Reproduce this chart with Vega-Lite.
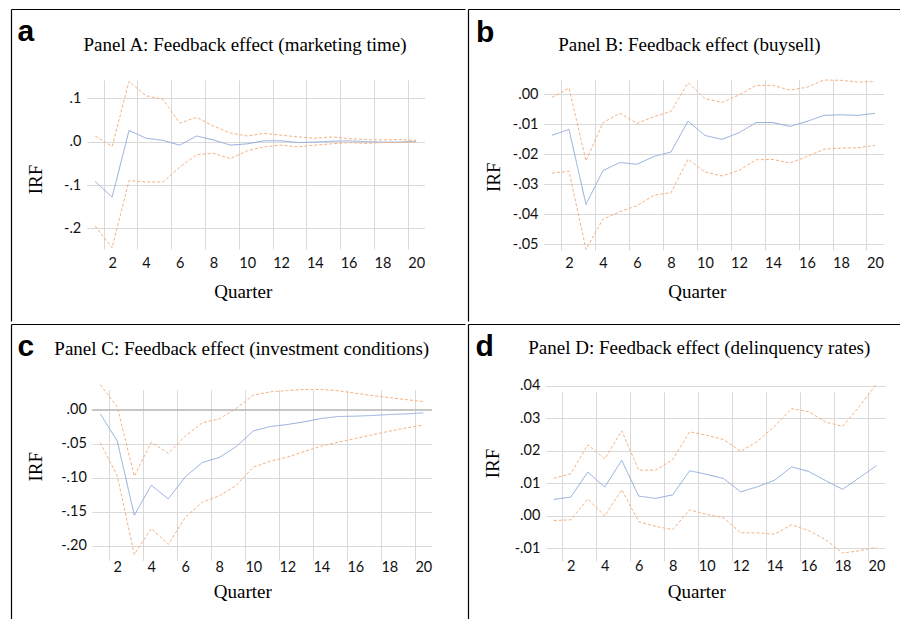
{
  "$schema": "https://vega.github.io/schema/vega-lite/v6.json",
  "padding": {"left": 8, "top": 9, "right": 0, "bottom": 0},
  "background": "white",
  "config": {"view": {"stroke": null}, "concat": {"spacing": 0}},
  "spacing": 0,
  "vconcat": [
    {
      "spacing": 0,
      "hconcat": [
        {
          "width": 454, "height": 312,
          "resolve": {"scale": {"x": "independent", "y": "independent"}, "axis": {"x": "independent", "y": "independent"}},
          "layer": [
            {
              "data": {"values": [{}]},
              "mark": {"type": "point", "opacity": 0},
              "encoding": {
                "x": {"datum": 0, "type": "quantitative", "scale": {"domain": [0, 1], "nice": false},
                  "axis": {"orient": "top", "domain": true, "domainColor": "#000", "domainWidth": 1.2, "ticks": false, "labels": false, "grid": false,
                    "title": "Panel A:  Feedback effect (marketing time)", "titleX": 233.5, "titleY": 41.7, "titleAlign": "center", "titleBaseline": "alphabetic",
                    "titleFont": "Liberation Serif", "titleFontSize": 19, "titleFontWeight": "normal", "titleColor": "#000"}},
                "y": {"datum": 0, "type": "quantitative", "scale": {"domain": [0, 1], "nice": false},
                  "axis": {"orient": "left", "domain": true, "domainColor": "#000", "domainWidth": 1.2, "ticks": false, "labels": false, "grid": false,
                    "title": "a", "titleAngle": 0, "titleX": 6, "titleY": 31.5, "titleAlign": "left", "titleBaseline": "alphabetic",
                    "titleFont": "Liberation Sans", "titleFontSize": 30, "titleFontWeight": "bold", "titleColor": "#000"}}
              }
            },
            {
              "data": {"values": [
                {"q":1,"IRF":-0.092,"Upper":0.013,"Lower":-0.195},
                {"q":2,"IRF":-0.128,"Upper":-0.011,"Lower":-0.245},
                {"q":3,"IRF":0.026,"Upper":0.139,"Lower":-0.090},
                {"q":4,"IRF":0.008,"Upper":0.106,"Lower":-0.093},
                {"q":5,"IRF":0.003,"Upper":0.098,"Lower":-0.093},
                {"q":6,"IRF":-0.008,"Upper":0.043,"Lower":-0.059},
                {"q":7,"IRF":0.013,"Upper":0.056,"Lower":-0.030},
                {"q":8,"IRF":0.004,"Upper":0.036,"Lower":-0.027},
                {"q":9,"IRF":-0.008,"Upper":0.020,"Lower":-0.039},
                {"q":10,"IRF":-0.005,"Upper":0.013,"Lower":-0.021},
                {"q":11,"IRF":0.002,"Upper":0.019,"Lower":-0.012},
                {"q":12,"IRF":0.002,"Upper":0.015,"Lower":-0.008},
                {"q":13,"IRF":-0.002,"Upper":0.011,"Lower":-0.012},
                {"q":14,"IRF":-0.001,"Upper":0.008,"Lower":-0.008},
                {"q":15,"IRF":0.001,"Upper":0.011,"Lower":-0.005},
                {"q":16,"IRF":0.002,"Upper":0.007,"Lower":-0.002},
                {"q":17,"IRF":0.0,"Upper":0.005,"Lower":-0.004},
                {"q":18,"IRF":-0.001,"Upper":0.004,"Lower":-0.002},
                {"q":19,"IRF":-0.001,"Upper":0.005,"Lower":-0.002},
                {"q":20,"IRF":0.001,"Upper":0.003,"Lower":-0.001}
              ]},
              "transform": [{"fold": ["IRF", "Upper", "Lower"], "as": ["s", "v"]}],
              "layer": [
                {
                  "mark": {"type": "line", "strokeWidth": 1},
                  "encoding": {
                    "x": {"field": "q", "type": "quantitative", "scale": {"domain": [0.5, 20.5], "range": [75.8, 413.6], "nice": false, "zero": false},
                      "axis": {"orient": "bottom", "offset": -71, "values": [1.5,3.5,5.5,7.5,9.5,11.5,13.5,15.5,17.5,19.5],
                        "labelExpr": "'' + (datum.value + 0.5)", "labelOffset": 8.45, "labelFlush": false, "labelOverlap": false, "labelBound": false,
                        "labelPadding": 6, "labelFont": "Lato", "labelFontSize": 14.5, "labelColor": "#111",
                        "ticks": false, "domain": false, "grid": true, "gridColor": "#D9D9D9", "gridWidth": 1,
                        "title": "Quarter", "titleX": 231.7, "titleY": 47.5, "titleAlign": "center", "titleBaseline": "alphabetic",
                        "titleFont": "Liberation Serif", "titleFontSize": 19, "titleFontWeight": "normal", "titleColor": "#000"}},
                    "y": {"field": "v", "type": "quantitative", "scale": {"domain": [-0.25, 0.14], "range": [241, 72], "nice": false, "zero": false},
                      "axis": {"orient": "left", "offset": -75.8, "values": [-0.2, -0.1, 0, 0.1],
                        "labelExpr": "(datum.value < 0 ? '-' : '') + replace(format(abs(datum.value), '.1f'), '0.', '.')",
                        "labelFlush": false, "labelOverlap": false, "labelPadding": 6, "labelFont": "Lato", "labelFontSize": 14.5, "labelColor": "#111",
                        "ticks": false, "domain": false, "grid": true, "gridColor": "#D9D9D9", "gridWidth": 1,
                        "title": "IRF", "titleX": -45.5, "titleY": 170, "titleAlign": "center", "titleBaseline": "alphabetic",
                        "titleFont": "Liberation Serif", "titleFontSize": 19, "titleFontWeight": "normal", "titleColor": "#000"}},
                    "color": {"field": "s", "type": "nominal", "scale": {"domain": ["IRF", "Upper", "Lower"], "range": ["#8FAADC", "#F4B183", "#F4B183"]}, "legend": null},
                    "strokeDash": {"field": "s", "type": "nominal", "scale": {"domain": ["IRF", "Upper", "Lower"], "range": [[1, 0], [3, 2], [3, 2]]}, "legend": null}
                  }
                }
              ]
            }
          ]
        },
        {
          "width": 437, "height": 312,
          "resolve": {"scale": {"x": "independent", "y": "independent"}, "axis": {"x": "independent", "y": "independent"}},
          "layer": [
            {
              "data": {"values": [{}]},
              "mark": {"type": "point", "opacity": 0},
              "encoding": {
                "x": {"datum": 0, "type": "quantitative", "scale": {"domain": [0, 1], "nice": false},
                  "axis": {"orient": "top", "domain": true, "domainColor": "#000", "domainWidth": 1.2, "ticks": false, "labels": false, "grid": false,
                    "title": "Panel B: Feedback effect (buysell)", "titleX": 221, "titleY": 41.7, "titleAlign": "center", "titleBaseline": "alphabetic",
                    "titleFont": "Liberation Serif", "titleFontSize": 19, "titleFontWeight": "normal", "titleColor": "#000"}},
                "y": {"datum": 0, "type": "quantitative", "scale": {"domain": [0, 1], "nice": false},
                  "axis": {"orient": "left", "domain": true, "domainColor": "#000", "domainWidth": 1.2, "ticks": false, "labels": false, "grid": false,
                    "title": "b", "titleAngle": 0, "titleX": 7.5, "titleY": 32, "titleAlign": "left", "titleBaseline": "alphabetic",
                    "titleFont": "Liberation Sans", "titleFontSize": 30, "titleFontWeight": "bold", "titleColor": "#000"}}
              }
            },
            {
              "data": {"values": [
                {"q":1,"IRF":-0.0136,"Upper":-0.0010,"Lower":-0.0263},
                {"q":2,"IRF":-0.0117,"Upper":0.0021,"Lower":-0.0256},
                {"q":3,"IRF":-0.0367,"Upper":-0.0222,"Lower":-0.0517},
                {"q":4,"IRF":-0.0254,"Upper":-0.0094,"Lower":-0.0416},
                {"q":5,"IRF":-0.0227,"Upper":-0.0063,"Lower":-0.0391},
                {"q":6,"IRF":-0.0233,"Upper":-0.0097,"Lower":-0.0371},
                {"q":7,"IRF":-0.0207,"Upper":-0.0074,"Lower":-0.0336},
                {"q":8,"IRF":-0.0192,"Upper":-0.0057,"Lower":-0.0328},
                {"q":9,"IRF":-0.0089,"Upper":0.0039,"Lower":-0.0216},
                {"q":10,"IRF":-0.0137,"Upper":-0.0014,"Lower":-0.0259},
                {"q":11,"IRF":-0.0150,"Upper":-0.0027,"Lower":-0.0272},
                {"q":12,"IRF":-0.0128,"Upper":-0.0002,"Lower":-0.0254},
                {"q":13,"IRF":-0.0094,"Upper":0.0030,"Lower":-0.0218},
                {"q":14,"IRF":-0.0094,"Upper":0.0030,"Lower":-0.0217},
                {"q":15,"IRF":-0.0107,"Upper":0.0014,"Lower":-0.0229},
                {"q":16,"IRF":-0.0090,"Upper":0.0024,"Lower":-0.0207},
                {"q":17,"IRF":-0.0070,"Upper":0.0048,"Lower":-0.0183},
                {"q":18,"IRF":-0.0068,"Upper":0.0047,"Lower":-0.0179},
                {"q":19,"IRF":-0.0070,"Upper":0.0041,"Lower":-0.0178},
                {"q":20,"IRF":-0.0063,"Upper":0.0043,"Lower":-0.0170}
              ]},
              "transform": [{"fold": ["IRF", "Upper", "Lower"], "as": ["s", "v"]}],
              "layer": [
                {
                  "mark": {"type": "line", "strokeWidth": 1},
                  "encoding": {
                    "x": {"field": "q", "type": "quantitative", "scale": {"domain": [0.5, 20.5], "range": [75.5, 415.5], "nice": false, "zero": false},
                      "axis": {"orient": "bottom", "offset": -70.7, "values": [1.5,3.5,5.5,7.5,9.5,11.5,13.5,15.5,17.5,19.5],
                        "labelExpr": "'' + (datum.value + 0.5)", "labelOffset": 8.5, "labelFlush": false, "labelOverlap": false, "labelBound": false,
                        "labelPadding": 6, "labelFont": "Lato", "labelFontSize": 14.5, "labelColor": "#111",
                        "ticks": false, "domain": false, "grid": true, "gridColor": "#D9D9D9", "gridWidth": 1,
                        "title": "Quarter", "titleX": 228.8, "titleY": 47.2, "titleAlign": "center", "titleBaseline": "alphabetic",
                        "titleFont": "Liberation Serif", "titleFontSize": 19, "titleFontWeight": "normal", "titleColor": "#000"}},
                    "y": {"field": "v", "type": "quantitative", "scale": {"domain": [-0.052, 0.0048], "range": [241.3, 71], "nice": false, "zero": false},
                      "axis": {"orient": "left", "offset": -75.5, "values": [-0.05, -0.04, -0.03, -0.02, -0.01, 0],
                        "labelExpr": "(datum.value < 0 ? '-' : '') + replace(format(abs(datum.value), '.2f'), '0.', '.')",
                        "labelFlush": false, "labelOverlap": false, "labelPadding": 5.5, "labelFont": "Lato", "labelFontSize": 14.5, "labelColor": "#111",
                        "ticks": false, "domain": false, "grid": true, "gridColor": "#D9D9D9", "gridWidth": 1,
                        "title": "IRF", "titleX": -44.2, "titleY": 167.7, "titleAlign": "center", "titleBaseline": "alphabetic",
                        "titleFont": "Liberation Serif", "titleFontSize": 19, "titleFontWeight": "normal", "titleColor": "#000"}},
                    "color": {"field": "s", "type": "nominal", "scale": {"domain": ["IRF", "Upper", "Lower"], "range": ["#8FAADC", "#F4B183", "#F4B183"]}, "legend": null},
                    "strokeDash": {"field": "s", "type": "nominal", "scale": {"domain": ["IRF", "Upper", "Lower"], "range": [[1, 0], [3, 2], [3, 2]]}, "legend": null}
                  }
                }
              ]
            }
          ]
        }
      ]
    },
    {
      "spacing": 0,
      "hconcat": [
        {
          "width": 454, "height": 297,
          "resolve": {"scale": {"x": "independent", "y": "independent"}, "axis": {"x": "independent", "y": "independent"}},
          "layer": [
            {
              "data": {"values": [{}]},
              "mark": {"type": "point", "opacity": 0},
              "encoding": {
                "x": {"datum": 0, "type": "quantitative", "scale": {"domain": [0, 1], "nice": false},
                  "axis": {"orient": "top", "domain": true, "domainColor": "#000", "domainWidth": 1.2, "ticks": false, "labels": false, "grid": false,
                    "title": "Panel C: Feedback effect (investment conditions)", "titleX": 230.2, "titleY": 30.5, "titleAlign": "center", "titleBaseline": "alphabetic",
                    "titleFont": "Liberation Serif", "titleFontSize": 19, "titleFontWeight": "normal", "titleColor": "#000"}},
                "y": {"datum": 0, "type": "quantitative", "scale": {"domain": [0, 1], "nice": false},
                  "axis": {"orient": "left", "domain": true, "domainColor": "#000", "domainWidth": 1.2, "ticks": false, "labels": false, "grid": false,
                    "title": "c", "titleAngle": 0, "titleX": 6, "titleY": 31, "titleAlign": "left", "titleBaseline": "alphabetic",
                    "titleFont": "Liberation Sans", "titleFontSize": 30, "titleFontWeight": "bold", "titleColor": "#000"}}
              }
            },
            {
              "data": {"values": [
                {"q":1,"IRF":-0.0059,"Upper":0.037,"Lower":-0.0485},
                {"q":2,"IRF":-0.046,"Upper":0.004,"Lower":-0.0975},
                {"q":3,"IRF":-0.155,"Upper":-0.0975,"Lower":-0.2127},
                {"q":4,"IRF":-0.111,"Upper":-0.0475,"Lower":-0.1745},
                {"q":5,"IRF":-0.131,"Upper":-0.064,"Lower":-0.198},
                {"q":6,"IRF":-0.0985,"Upper":-0.0387,"Lower":-0.158},
                {"q":7,"IRF":-0.0775,"Upper":-0.019,"Lower":-0.1358},
                {"q":8,"IRF":-0.070,"Upper":-0.0132,"Lower":-0.1265},
                {"q":9,"IRF":-0.054,"Upper":0.002,"Lower":-0.111},
                {"q":10,"IRF":-0.031,"Upper":0.0216,"Lower":-0.0843},
                {"q":11,"IRF":-0.0245,"Upper":0.0265,"Lower":-0.0755},
                {"q":12,"IRF":-0.0216,"Upper":0.0284,"Lower":-0.0696},
                {"q":13,"IRF":-0.0176,"Upper":0.030,"Lower":-0.0613},
                {"q":14,"IRF":-0.0127,"Upper":0.030,"Lower":-0.0534},
                {"q":15,"IRF":-0.0098,"Upper":0.028,"Lower":-0.0475},
                {"q":16,"IRF":-0.0093,"Upper":0.0245,"Lower":-0.0422},
                {"q":17,"IRF":-0.0083,"Upper":0.021,"Lower":-0.0368},
                {"q":18,"IRF":-0.0069,"Upper":0.018,"Lower":-0.0314},
                {"q":19,"IRF":-0.0059,"Upper":0.015,"Lower":-0.0265},
                {"q":20,"IRF":-0.0044,"Upper":0.0123,"Lower":-0.0225}
              ]},
              "transform": [{"fold": ["IRF", "Upper", "Lower"], "as": ["s", "v"]}],
              "layer": [
                {
                  "data": {"values": [{}]},
                  "mark": {"type": "rule", "color": "#B4B4B4", "strokeWidth": 1.2},
                  "encoding": {
                    "x": {"datum": 0.5, "type": "quantitative"},
                    "x2": {"datum": 20.5},
                    "y": {"datum": 0, "type": "quantitative"}
                  }
                },
                {
                  "mark": {"type": "line", "strokeWidth": 1},
                  "encoding": {
                    "x": {"field": "q", "type": "quantitative", "scale": {"domain": [0.5, 20.5], "range": [80.8, 420.8], "nice": false, "zero": false},
                      "axis": {"orient": "bottom", "offset": -65.7, "values": [1.5,3.5,5.5,7.5,9.5,11.5,13.5,15.5,17.5,19.5],
                        "labelExpr": "'' + (datum.value + 0.5)", "labelOffset": 8.5, "labelFlush": false, "labelOverlap": false, "labelBound": false,
                        "labelPadding": 5.5, "labelFont": "Lato", "labelFontSize": 14.5, "labelColor": "#111",
                        "ticks": false, "domain": false, "grid": true, "gridColor": "#D9D9D9", "gridWidth": 1,
                        "title": "Quarter", "titleX": 231.3, "titleY": 42, "titleAlign": "center", "titleBaseline": "alphabetic",
                        "titleFont": "Liberation Serif", "titleFontSize": 19, "titleFontWeight": "normal", "titleColor": "#000"}},
                    "y": {"field": "v", "type": "quantitative", "scale": {"domain": [-0.214, 0.037], "range": [231.3, 60.7], "nice": false, "zero": false},
                      "axis": {"orient": "left", "offset": -80.8, "values": [-0.2, -0.15, -0.1, -0.05, 0],
                        "labelExpr": "(datum.value < 0 ? '-' : '') + replace(format(abs(datum.value), '.2f'), '0.', '.')",
                        "labelFlush": false, "labelOverlap": false, "labelPadding": 5.5, "labelFont": "Lato", "labelFontSize": 14.5, "labelColor": "#111",
                        "ticks": false, "domain": false, "grid": true, "gridColor": "#D9D9D9", "gridWidth": 1,
                        "title": "IRF", "titleX": -50.5, "titleY": 142.3, "titleAlign": "center", "titleBaseline": "alphabetic",
                        "titleFont": "Liberation Serif", "titleFontSize": 19, "titleFontWeight": "normal", "titleColor": "#000"}},
                    "color": {"field": "s", "type": "nominal", "scale": {"domain": ["IRF", "Upper", "Lower"], "range": ["#8FAADC", "#F4B183", "#F4B183"]}, "legend": null},
                    "strokeDash": {"field": "s", "type": "nominal", "scale": {"domain": ["IRF", "Upper", "Lower"], "range": [[1, 0], [3, 2], [3, 2]]}, "legend": null}
                  }
                }
              ]
            }
          ]
        },
        {
          "width": 437, "height": 297,
          "resolve": {"scale": {"x": "independent", "y": "independent"}, "axis": {"x": "independent", "y": "independent"}},
          "layer": [
            {
              "data": {"values": [{}]},
              "mark": {"type": "point", "opacity": 0},
              "encoding": {
                "x": {"datum": 0, "type": "quantitative", "scale": {"domain": [0, 1], "nice": false},
                  "axis": {"orient": "top", "domain": true, "domainColor": "#000", "domainWidth": 1.2, "ticks": false, "labels": false, "grid": false,
                    "title": "Panel D:  Feedback effect (delinquency rates)", "titleX": 230.8, "titleY": 29.5, "titleAlign": "center", "titleBaseline": "alphabetic",
                    "titleFont": "Liberation Serif", "titleFontSize": 19, "titleFontWeight": "normal", "titleColor": "#000"}},
                "y": {"datum": 0, "type": "quantitative", "scale": {"domain": [0, 1], "nice": false},
                  "axis": {"orient": "left", "domain": true, "domainColor": "#000", "domainWidth": 1.2, "ticks": false, "labels": false, "grid": false,
                    "title": "d", "titleAngle": 0, "titleX": 7, "titleY": 31, "titleAlign": "left", "titleBaseline": "alphabetic",
                    "titleFont": "Liberation Sans", "titleFontSize": 30, "titleFontWeight": "bold", "titleColor": "#000"}}
              }
            },
            {
              "data": {"values": [
                {"q":1,"IRF":0.0051,"Upper":0.0116,"Lower":-0.0014},
                {"q":2,"IRF":0.0058,"Upper":0.0130,"Lower":-0.0012},
                {"q":3,"IRF":0.0135,"Upper":0.0219,"Lower":0.0052},
                {"q":4,"IRF":0.0089,"Upper":0.0176,"Lower":0.0000},
                {"q":5,"IRF":0.0171,"Upper":0.0262,"Lower":0.0081},
                {"q":6,"IRF":0.0061,"Upper":0.0141,"Lower":-0.0018},
                {"q":7,"IRF":0.0054,"Upper":0.0141,"Lower":-0.0032},
                {"q":8,"IRF":0.0065,"Upper":0.0173,"Lower":-0.0042},
                {"q":9,"IRF":0.0139,"Upper":0.0259,"Lower":0.0019},
                {"q":10,"IRF":0.0128,"Upper":0.0248,"Lower":0.0005},
                {"q":11,"IRF":0.0115,"Upper":0.0235,"Lower":-0.0006},
                {"q":12,"IRF":0.0074,"Upper":0.0199,"Lower":-0.0052},
                {"q":13,"IRF":0.0090,"Upper":0.0230,"Lower":-0.0052},
                {"q":14,"IRF":0.0110,"Upper":0.0276,"Lower":-0.0056},
                {"q":15,"IRF":0.0151,"Upper":0.0330,"Lower":-0.0027},
                {"q":16,"IRF":0.0137,"Upper":0.0321,"Lower":-0.0045},
                {"q":17,"IRF":0.0109,"Upper":0.0289,"Lower":-0.0073},
                {"q":18,"IRF":0.0082,"Upper":0.0276,"Lower":-0.0114},
                {"q":19,"IRF":0.0118,"Upper":0.0337,"Lower":-0.0107},
                {"q":20,"IRF":0.0155,"Upper":0.0406,"Lower":-0.0096}
              ]},
              "transform": [{"fold": ["IRF", "Upper", "Lower"], "as": ["s", "v"]}],
              "layer": [
                {
                  "mark": {"type": "line", "strokeWidth": 1},
                  "encoding": {
                    "x": {"field": "q", "type": "quantitative", "scale": {"domain": [0.5, 20.5], "range": [77.3, 417], "nice": false, "zero": false},
                      "axis": {"orient": "bottom", "offset": -68, "values": [1.5,3.5,5.5,7.5,9.5,11.5,13.5,15.5,17.5,19.5],
                        "labelExpr": "'' + (datum.value + 0.5)", "labelOffset": 8.5, "labelFlush": false, "labelOverlap": false, "labelBound": false,
                        "labelPadding": 6, "labelFont": "Lato", "labelFontSize": 14.5, "labelColor": "#111",
                        "ticks": false, "domain": false, "grid": true, "gridColor": "#D9D9D9", "gridWidth": 1,
                        "title": "Quarter", "titleX": 228.3, "titleY": 44.3, "titleAlign": "center", "titleBaseline": "alphabetic",
                        "titleFont": "Liberation Serif", "titleFontSize": 19, "titleFontWeight": "normal", "titleColor": "#000"}},
                    "y": {"field": "v", "type": "quantitative", "scale": {"domain": [-0.0114, 0.0406], "range": [229, 60], "nice": false, "zero": false},
                      "axis": {"orient": "left", "offset": -77.3, "values": [-0.01, 0, 0.01, 0.02, 0.03, 0.04],
                        "labelExpr": "(datum.value < 0 ? '-' : '') + replace(format(abs(datum.value), '.2f'), '0.', '.')",
                        "labelFlush": false, "labelOverlap": false, "labelPadding": 5.5, "labelFont": "Lato", "labelFontSize": 14.5, "labelColor": "#111",
                        "ticks": false, "domain": false, "grid": true, "gridColor": "#D9D9D9", "gridWidth": 1,
                        "title": "IRF", "titleX": -47, "titleY": 139, "titleAlign": "center", "titleBaseline": "alphabetic",
                        "titleFont": "Liberation Serif", "titleFontSize": 19, "titleFontWeight": "normal", "titleColor": "#000"}},
                    "color": {"field": "s", "type": "nominal", "scale": {"domain": ["IRF", "Upper", "Lower"], "range": ["#8FAADC", "#F4B183", "#F4B183"]}, "legend": null},
                    "strokeDash": {"field": "s", "type": "nominal", "scale": {"domain": ["IRF", "Upper", "Lower"], "range": [[1, 0], [3, 2], [3, 2]]}, "legend": null}
                  }
                }
              ]
            }
          ]
        }
      ]
    }
  ]
}
